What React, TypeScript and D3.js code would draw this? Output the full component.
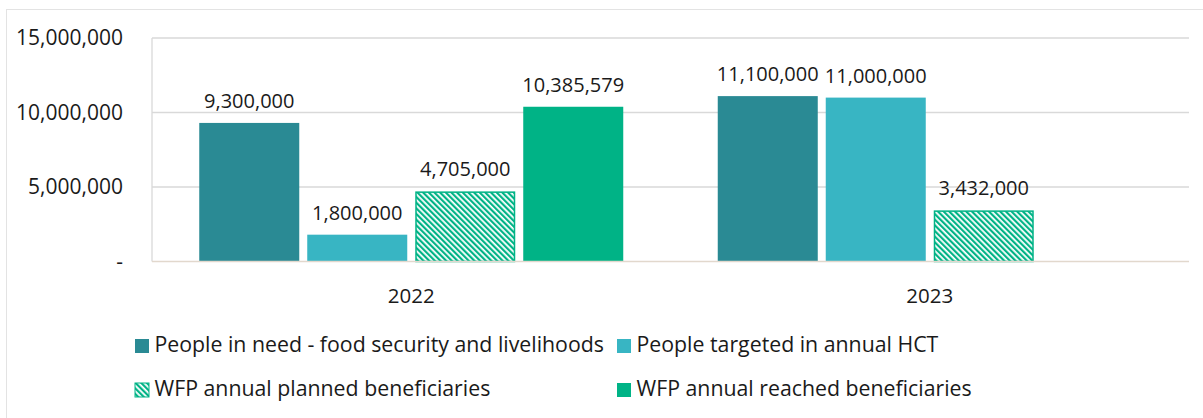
import React, { useEffect, useRef } from "react";
import * as d3 from "d3";

const years = ["2022", "2023"];
const seriesNames = [
  "People in need - food security and livelihoods",
  "People targeted in annual HCT",
  "WFP annual planned beneficiaries",
  "WFP annual reached beneficiaries",
];
const peopleInNeed = [9300000, 11100000];
const peopleTargeted = [1800000, 11000000];
const wfpPlanned = [4705000, 3432000];
const wfpReached: (number | null)[] = [10385579, null];
const yTicks = [0, 5000000, 10000000, 15000000];

const colors = ["#2a8a94", "#38b5c3", "#00b386", "#00b386"];
const FONT = "'Open Sans', sans-serif";

const App = () => {
  const ref = useRef<SVGSVGElement>(null);

  useEffect(() => {
    const svg = d3.select(ref.current);
    svg.selectAll("*").remove();

    const W = 1203, H = 418;
    const margin = { top: 38, right: 14, bottom: 156.5, left: 152 };
    const width = W - margin.left - margin.right;
    const height = H - margin.top - margin.bottom;

    // hatch pattern for planned
    const defs = svg.append("defs");
    const pat = defs.append("pattern")
      .attr("id", "hatch")
      .attr("patternUnits", "userSpaceOnUse")
      .attr("width", 4)
      .attr("height", 4)
      .attr("patternTransform", "rotate(-45)");
    pat.append("rect").attr("width", 4).attr("height", 4).attr("fill", "#ffffff");
    pat.append("rect").attr("width", 2.2).attr("height", 4).attr("fill", colors[2]);

    // outer frame
    svg.append("rect")
      .attr("x", 6.5).attr("y", 9.5)
      .attr("width", W).attr("height", H)
      .attr("fill", "white")
      .attr("stroke", "#e3e3e3");

    const g = svg.append("g").attr("transform", `translate(${margin.left},${margin.top})`);

    const x0 = d3.scaleBand().domain(years).range([0, width]);
    const x1 = d3.scaleBand().domain(seriesNames).range([0, 424]).paddingInner(0.074);
    const y = d3.scaleLinear().domain([0, 15000000]).range([height, 0]);

    // gridlines
    g.selectAll(".grid")
      .data(yTicks.slice(1))
      .enter()
      .append("line")
      .attr("x1", 0).attr("x2", width)
      .attr("y1", (d) => y(d)).attr("y2", (d) => y(d))
      .attr("stroke", "#d9d9d9").attr("stroke-width", 1.3);

    g.append("line")
      .attr("x1", 0).attr("x2", 0)
      .attr("y1", 0).attr("y2", height)
      .attr("stroke", "#d9d9d9").attr("stroke-width", 1.3);

    // y tick labels
    g.selectAll(".ytick")
      .data(yTicks)
      .enter()
      .append("text")
      .attr("x", -29)
      .attr("y", (d) => y(d))
      .attr("dy", "0.35em")
      .attr("text-anchor", "end")
      .attr("font-family", FONT)
      .attr("font-size", 21)
      .attr("fill", "#1a1a1a")
      .text((d) => (d === 0 ? "-" : d3.format(",")(d)));

    const data = years.map((yr, i) => ({
      year: yr,
      values: [peopleInNeed[i], peopleTargeted[i], wfpPlanned[i], wfpReached[i]],
    }));

    const groups = g.selectAll(".grp")
      .data(data)
      .enter()
      .append("g")
      .attr("transform", (d) => `translate(${x0(d.year)! + (x0.bandwidth() - 424) / 2},0)`);

    groups.each(function (d) {
      const gg = d3.select(this);
      d.values.forEach((v, k) => {
        if (v == null) return;
        const bx = x1(seriesNames[k])!;
        const bw = x1.bandwidth();
        if (k === 2) {
          gg.append("rect")
            .attr("x", bx + 0.75).attr("y", y(v) + 0.75)
            .attr("width", bw - 1.5).attr("height", height - y(v) - 0.75)
            .attr("fill", "url(#hatch)")
            .attr("stroke", colors[2]).attr("stroke-width", 1.5);
        } else {
          gg.append("rect")
            .attr("x", bx).attr("y", y(v))
            .attr("width", bw).attr("height", height - y(v))
            .attr("fill", colors[k]);
        }
        gg.append("text")
          .attr("x", bx + bw / 2)
          .attr("y", y(v) - 15)
          .attr("text-anchor", "middle")
          .attr("font-family", FONT)
          .attr("font-size", 20)
          .attr("fill", "#1a1a1a")
          .text(d3.format(",")(v));
      });
    });

    // baseline
    g.append("line")
      .attr("x1", 0).attr("x2", width)
      .attr("y1", height).attr("y2", height)
      .attr("stroke", "#e2d8cd").attr("stroke-width", 1.5);

    // x labels
    g.selectAll(".xl")
      .data(years)
      .enter()
      .append("text")
      .attr("x", (d) => x0(d)! + x0.bandwidth() / 2)
      .attr("y", height + 34)
      .attr("dy", "0.35em")
      .attr("text-anchor", "middle")
      .attr("font-family", FONT)
      .attr("font-size", 20.5)
      .attr("fill", "#1a1a1a")
      .text((d) => d);

    // legend
    const legendPos = [
      { x: 135, y: 346 },
      { x: 617, y: 346 },
      { x: 135, y: 390 },
      { x: 617, y: 390 },
    ];
    seriesNames.forEach((name, k) => {
      const p = legendPos[k];
      svg.append("rect")
        .attr("x", p.x).attr("y", p.y - 7)
        .attr("width", 14).attr("height", 14)
        .attr("fill", k === 2 ? "url(#hatch)" : colors[k])
        .attr("stroke", k === 2 ? colors[2] : "none")
        .attr("stroke-width", 1);
      svg.append("text")
        .attr("x", p.x + 19.5)
        .attr("y", p.y - 1)
        .attr("dy", "0.35em")
        .attr("font-family", FONT)
        .attr("font-size", 21.3)
        .attr("fill", "#1a1a1a")
        .text(name);
    });
  }, []);

  return (
    <svg
      ref={ref}
      width={1203}
      height={418}
      style={{ position: "absolute", left: 0, top: 0, display: "block" }}
    />
  );
};

export default App;
